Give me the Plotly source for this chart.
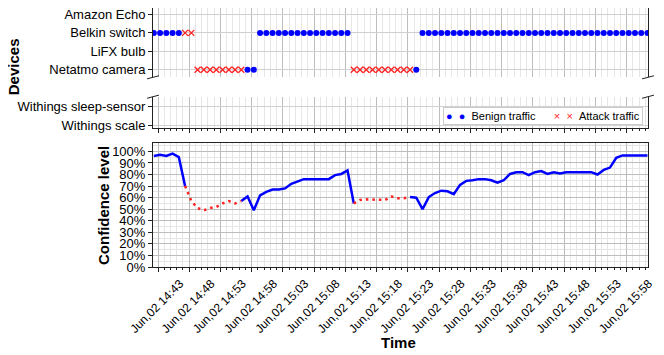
import pandas as pd
import plotly.graph_objects as go

# ----- data -----
start_time = "2019-06-02 14:42:20"
n_samples = 80
times = pd.date_range(start_time, periods=n_samples, freq="1min")

confidence = [
    0.96, 0.97, 0.96, 0.98, 0.95,
    0.70, 0.57, 0.51, 0.49, 0.51, 0.52, 0.55, 0.57, 0.55, 0.57,
    0.61, 0.49, 0.62, 0.65, 0.67, 0.67, 0.68, 0.72, 0.74, 0.76, 0.76, 0.76,
    0.76, 0.76, 0.795, 0.805, 0.835,
    0.55, 0.58, 0.585, 0.585, 0.585, 0.58, 0.61, 0.595, 0.595, 0.605,
    0.60, 0.50, 0.605, 0.64, 0.66, 0.655, 0.63, 0.71, 0.745, 0.75, 0.76, 0.76,
    0.75, 0.73, 0.75, 0.805, 0.82, 0.82, 0.795, 0.82, 0.83, 0.805, 0.82, 0.81,
    0.82, 0.82, 0.82, 0.82, 0.82, 0.80, 0.84, 0.86, 0.945, 0.965, 0.965, 0.965,
    0.965, 0.965,
]

# which device was seen, and whether it was attack traffic (run lengths)
run_device = ["Belkin switch", "Belkin switch", "Netatmo camera", "Netatmo camera",
              "Belkin switch", "Netatmo camera", "Netatmo camera", "Belkin switch"]
run_attack = [False, True, True, False, False, True, False, False]
run_length = [5, 2, 8, 2, 15, 10, 1, 37]

device_order = ["Withings scale", "Withings sleep-sensor", "Netatmo camera",
                "LiFX bulb", "Belkin switch", "Amazon Echo"]

device, attack = [], []
for d, a, n in zip(run_device, run_attack, run_length):
    device += [d] * n
    attack += [a] * n

# blue line keeps benign points plus the attack points next to benign ones
blue_y, red_y = [], []
for i, v in enumerate(confidence):
    if attack[i]:
        red_y.append(v)
        prev_ok = i > 0 and not attack[i - 1]
        next_ok = i < n_samples - 1 and not attack[i + 1]
        blue_y.append(v if (prev_ok or next_ok) else None)
    else:
        red_y.append(None)
        blue_y.append(v)

benign_x = [t for t, a in zip(times, attack) if not a]
benign_dev = [d for d, a in zip(device, attack) if not a]
attack_x = [t for t, a in zip(times, attack) if a]
attack_dev = [d for d, a in zip(device, attack) if a]

BLUE = "#0000ff"
RED = "#ff2020"
FONT = "Liberation Sans, Arial, sans-serif"
AX = "#222222"
GRID = "#bdbdbd"
MINOR = "#e6e6e6"

fig = go.Figure()

# device panels (same data in the upper and lower part of the broken axis)
for xa, ya in [("x2", "y2"), ("x3", "y3")]:
    fig.add_trace(go.Scatter(x=benign_x, y=benign_dev, mode="markers",
                             marker=dict(symbol="circle", size=6, color=BLUE),
                             xaxis=xa, yaxis=ya))
    fig.add_trace(go.Scatter(x=attack_x, y=attack_dev, mode="markers",
                             marker=dict(symbol="x-thin", size=6,
                                         line=dict(color=RED, width=1.3)),
                             xaxis=xa, yaxis=ya))

# confidence panel
fig.add_trace(go.Scatter(x=times, y=blue_y, mode="lines",
                         line=dict(color=BLUE, width=2.5), connectgaps=False))
fig.add_trace(go.Scatter(x=times, y=red_y, mode="lines",
                         line=dict(color=RED, width=2.5, dash="2.5px,4px"),
                         connectgaps=False))

x_range = ["2019-06-02 14:42:12", "2019-06-02 16:01:25"]
tick0 = "2019-06-02 14:43:00"
minor_x = dict(tick0=tick0, dtick=60000, showgrid=True, gridcolor=MINOR,
               gridwidth=1)

common_x = dict(range=x_range, type="date", tick0=tick0, dtick=300000,
                showgrid=True, gridcolor=GRID, gridwidth=1, automargin=False,
                linecolor=AX, linewidth=1, tickcolor=AX)

# page body has an 8px margin, so the figure is 8px smaller and shifted
top_dom = [0.7324, 1.0]
mid_dom = [0.5378, 0.6575]
bot_dom = [0.0, 0.4776]

fig.update_layout(
    width=656, height=347,
    margin=dict(l=145, r=16, t=0, b=88),
    paper_bgcolor="white", plot_bgcolor="white",
    showlegend=False,
    font=dict(family=FONT, color="black", size=13),
    xaxis=dict(**common_x, anchor="y", showline=True, mirror=True,
               ticks="outside", ticklen=4, tickangle=-45,
               tickformat="%b,%d %H:%M", tickfont=dict(size=12),
               ticklabelshift=22,
               minor=dict(**minor_x, ticks="outside", ticklen=2, tickcolor=AX)),
    yaxis=dict(domain=bot_dom, anchor="x", range=[0, 1.07], tick0=0, dtick=0.1,
               tickformat=".0%", ticks="outside", ticklen=4, tickcolor=AX,
               showline=True, mirror=True, linecolor=AX, zeroline=False,
               showgrid=True, gridcolor=GRID, automargin=False,
               minor=dict(dtick=0.05, showgrid=True, gridcolor=MINOR)),
    xaxis2=dict(**common_x, anchor="y2", matches="x", side="top",
                showline=True, ticks="", showticklabels=False, minor=minor_x),
    yaxis2=dict(domain=top_dom, anchor="x2", type="category",
                categoryorder="array", categoryarray=device_order,
                range=[1.59, 5.35], ticks="outside", ticklen=4, tickcolor=AX,
                showline=True, mirror=True, linecolor=AX, automargin=False,
                showgrid=True, gridcolor="#d0d0d0"),
    xaxis3=dict(**common_x, anchor="y3", matches="x", showline=True,
                ticks="outside", ticklen=4, showticklabels=False,
                minor=dict(**minor_x, ticks="outside", ticklen=2, tickcolor=AX)),
    yaxis3=dict(domain=mid_dom, anchor="x3", type="category",
                categoryorder="array", categoryarray=device_order,
                range=[-0.1, 1.53], ticks="outside", ticklen=4, tickcolor=AX,
                showline=True, mirror=True, linecolor=AX, automargin=False,
                showgrid=True, gridcolor="#d0d0d0"),
)

# broken-axis diagonal marks
dx, dy = 0.012, 0.006
for xc in [0.0, 1.0]:
    for yc in [top_dom[0], mid_dom[1]]:
        fig.add_shape(type="line", xref="paper", yref="paper",
                      x0=xc - dx, x1=xc + dx, y0=yc - dy, y1=yc + dy,
                      line=dict(color=AX, width=1))

# axis titles
title_font = dict(size=15)
fig.add_annotation(text="<b>Devices</b>", xref="paper", yref="paper",
                   x=-0.2825, y=0.772, xanchor="center", yanchor="middle",
                   textangle=-90, showarrow=False, font=title_font)
fig.add_annotation(text="<b>Confidence level</b>", xref="paper", yref="paper",
                   x=-0.099, y=0.2394, xanchor="center", yanchor="middle",
                   textangle=-90, showarrow=False, font=title_font)
fig.add_annotation(text="<b>Time</b>", xref="paper", yref="paper",
                   x=0.495, y=-0.2934, xanchor="center", yanchor="middle",
                   showarrow=False, font=title_font)

# legend box
nb = "\u00a0"
legend_text = (f'<span style="color:{BLUE}">●{nb}{nb}●</span>{nb}{nb}Benign traffic'
               f'{nb * 6}<span style="color:{RED}">×{nb}{nb}×</span>{nb}{nb}Attack traffic')
fig.add_annotation(text=legend_text, xref="paper", yref="paper",
                   x=0.99, y=0.583, xanchor="right", yanchor="middle",
                   showarrow=False, font=dict(size=11),
                   bgcolor="white", bordercolor="#cccccc", borderwidth=1,
                   borderpad=2)

fig.write_html("out.html")
